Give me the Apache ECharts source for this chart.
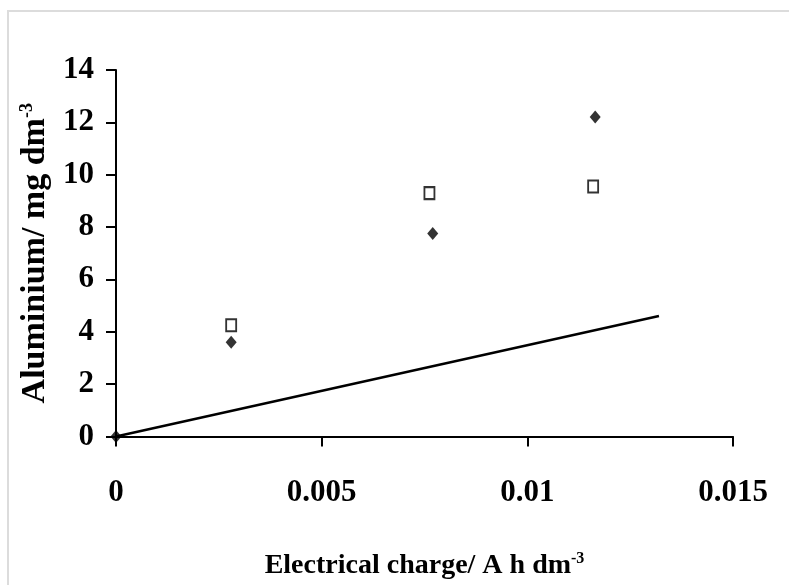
<!DOCTYPE html>
<html>
<head>
<meta charset="utf-8">
<script src="https://cdn.jsdelivr.net/npm/echarts@6/dist/echarts.min.js"></script>
<style>
    html, body { margin: 0; padding: 0; background: #fff; }
    #chart { width: 789px; height: 585px; }
</style>
</head>
<body>
<div id="chart"></div>
<script>
// measured points (x: A h dm-3, y: mg dm-3)
const filledDiamonds = [[0, 0], [0.0028, 3.6], [0.0077, 7.75], [0.01165, 12.2]];
const hollowSquares = [[0.0028, 4.25], [0.00762, 9.3], [0.0116, 9.55]];
const trendLine = [[0, 0], [0.0132, 4.6]];

const xTicks = [0, 0.005, 0.01, 0.015];
const yTicks = [0, 2, 4, 6, 8, 10, 12, 14];

document.addEventListener("DOMContentLoaded", function () {
    const chart = echarts.init(document.getElementById("chart"));
    const font = "Liberation Serif";

    chart.setOption({
        animation: false,
        backgroundColor: "#fff",
        graphic: [
            {
                type: "rect",
                shape: { x: 8, y: 11, width: 900, height: 700 },
                style: { fill: "none", stroke: "#dcdcdc", lineWidth: 2 }
            }
        ],
        grid: {
            left: 116,
            right: 56,
            top: 70,
            bottom: 146
        },
        xAxis: {
            type: "value",
            min: xTicks[0],
            max: xTicks[xTicks.length - 1],
            interval: 0.005,
            name: "{t|Electrical charge/ A h dm}{s|-3}",
            nameLocation: "middle",
            nameGap: 114,
            nameTextStyle: {
                rich: {
                    t: { fontFamily: font, fontWeight: "bold", fontSize: 28, color: "#000" },
                    s: { fontFamily: font, fontWeight: "bold", fontSize: 16, color: "#000", verticalAlign: "top", padding: [0, 0, 15, 0] }
                }
            },
            axisLine: { lineStyle: { color: "#000", width: 2 } },
            axisTick: { show: true, length: 10, lineStyle: { color: "#000", width: 2 } },
            splitLine: { show: false },
            axisLabel: {
                margin: 41,
                fontFamily: font,
                fontWeight: "bold",
                fontSize: 31,
                color: "#000",
                formatter: function (v) { return String(v); }
            }
        },
        yAxis: {
            type: "value",
            min: yTicks[0],
            max: yTicks[yTicks.length - 1],
            interval: 2,
            name: "{t|Aluminium/ mg dm}{s|-3}",
            nameLocation: "middle",
            nameGap: 62,
            nameRotate: 90,
            nameTextStyle: {
                rich: {
                    t: { fontFamily: font, fontWeight: "bold", fontSize: 34, color: "#000" },
                    s: { fontFamily: font, fontWeight: "bold", fontSize: 18, color: "#000", verticalAlign: "top", padding: [0, 0, 16, 0] }
                }
            },
            axisLine: { show: true, lineStyle: { color: "#000", width: 2 } },
            axisTick: { show: true, length: 10, lineStyle: { color: "#000", width: 2 } },
            splitLine: { show: false },
            axisLabel: {
                margin: 22,
                fontFamily: font,
                fontWeight: "bold",
                fontSize: 31,
                color: "#000"
            }
        },
        series: [
            {
                type: "line",
                data: trendLine,
                symbol: "none",
                lineStyle: { color: "#000", width: 2.5 },
                z: 2
            },
            {
                type: "scatter",
                data: hollowSquares,
                symbol: "rect",
                symbolSize: [10, 12],
                itemStyle: { color: "#fff", borderColor: "#000", borderWidth: 2 },
                z: 3
            },
            {
                type: "scatter",
                data: filledDiamonds,
                symbol: "diamond",
                symbolSize: [11, 13],
                itemStyle: { color: "#000" },
                z: 4
            }
        ]
    });

    window.addEventListener("resize", () => chart.resize());
});
</script>
</body>
</html>
